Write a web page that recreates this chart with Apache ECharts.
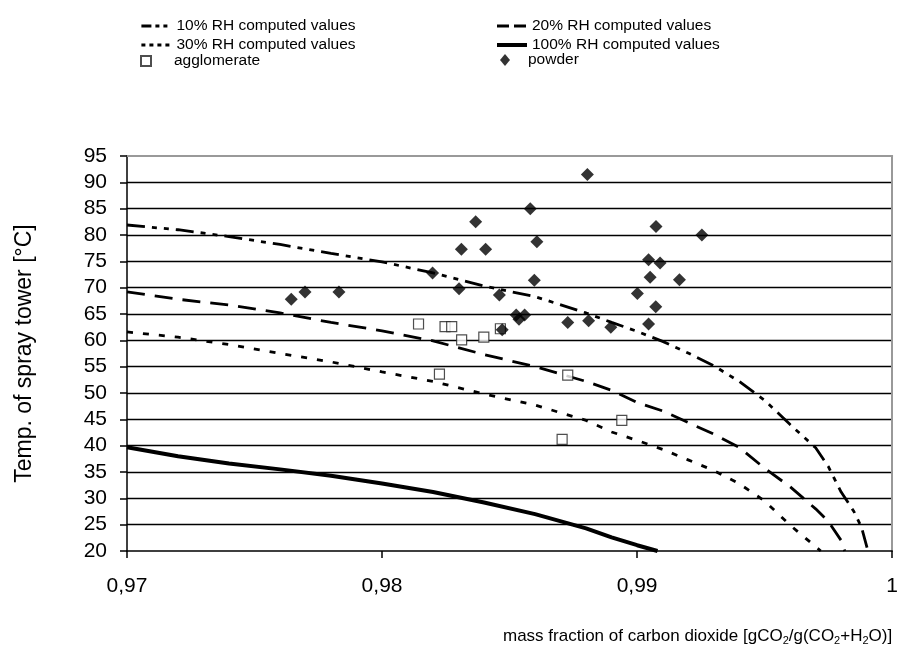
<!DOCTYPE html>
<html>
<head>
<meta charset="utf-8">
<script src="https://cdn.jsdelivr.net/npm/echarts@6/dist/echarts.min.js"></script>
<style>
  html, body { margin: 0; padding: 0; background: #fff; }
  #main { width: 901px; height: 652px; }
</style>
</head>
<body>
<div id="main"></div>
<script>
// computed curves (mass fraction CO2, temperature °C)
var rh10X = [0.970, 0.972, 0.974, 0.976, 0.978, 0.980, 0.982, 0.984, 0.986, 0.988, 0.989, 0.990, 0.991, 0.992, 0.993, 0.994, 0.995, 0.996, 0.997, 0.9975, 0.998, 0.9985, 0.9988, 0.99905];
var rh10Y = [81.9, 81.0, 79.7, 78.2, 76.5, 74.9, 72.8, 70.3, 68.3, 65.2, 63.4, 61.7, 59.8, 57.6, 55.2, 52.2, 48.6, 44.0, 39.6, 36.0, 31.2, 27.5, 24.5, 20.0];

var rh20X = [0.970, 0.972, 0.974, 0.976, 0.978, 0.980, 0.982, 0.984, 0.986, 0.988, 0.989, 0.990, 0.991, 0.992, 0.993, 0.994, 0.995, 0.996, 0.997, 0.9975, 0.998, 0.99814];
var rh20Y = [69.2, 67.8, 66.7, 65.2, 63.4, 61.8, 59.9, 57.3, 55.0, 52.2, 50.5, 48.2, 46.6, 44.4, 42.2, 39.7, 35.7, 32.2, 28.0, 25.6, 22.0, 20.0];

var rh30X = [0.970, 0.972, 0.974, 0.976, 0.978, 0.980, 0.982, 0.984, 0.986, 0.988, 0.989, 0.990, 0.991, 0.992, 0.993, 0.994, 0.995, 0.996, 0.9972];
var rh30Y = [61.6, 60.6, 59.2, 57.5, 55.9, 54.0, 52.2, 49.8, 47.7, 44.8, 42.6, 41.0, 39.3, 37.3, 35.3, 32.8, 29.5, 24.9, 20.0];

var rh100X = [0.970, 0.972, 0.974, 0.976, 0.978, 0.980, 0.982, 0.984, 0.986, 0.988, 0.989, 0.990, 0.9908];
var rh100Y = [39.7, 38.0, 36.6, 35.5, 34.3, 32.8, 31.2, 29.2, 27.0, 24.3, 22.6, 21.1, 20.0];

// measured points
var agglX = [0.98143, 0.98247, 0.98273, 0.98312, 0.98399, 0.98464, 0.98225, 0.98728, 0.98706, 0.98940];
var agglY = [63.1, 62.6, 62.6, 60.1, 60.6, 62.2, 53.6, 53.4, 41.2, 44.8];

var powderX = [0.97644, 0.97698, 0.97831, 0.98198, 0.98302, 0.98311, 0.98367, 0.98406, 0.98460, 0.98471,
               0.98526, 0.98537, 0.98559, 0.98581, 0.98607, 0.98597, 0.98805, 0.98728, 0.98810, 0.98897,
               0.99074, 0.99254, 0.99045, 0.99090, 0.99051, 0.99166, 0.99001, 0.99073, 0.99045];
var powderY = [67.8, 69.2, 69.2, 72.8, 69.8, 77.3, 82.5, 77.3, 68.6, 62.0,
               64.8, 64.0, 64.8, 85.0, 78.7, 71.4, 91.5, 63.4, 63.7, 62.5,
               81.6, 80.0, 75.3, 74.7, 72.0, 71.5, 68.9, 66.4, 63.1];

var names = ['10% RH computed values', '20% RH computed values', '30% RH computed values',
             '100% RH computed values', 'agglomerate', 'powder'];

function zip(xs, ys) {
    return xs.map(function (x, i) { return [x, ys[i]]; });
}

var font = 'Liberation Sans, Arial, sans-serif';

function lineSeries(name, xs, ys, type, width) {
    return {
        name: name,
        type: 'line',
        data: zip(xs, ys),
        symbol: 'none',
        smooth: false,
        clip: true,
        z: 3,
        itemStyle: { color: '#000' },
        lineStyle: { color: '#000', width: width, type: type }
    };
}

function legendText(padLeft) {
    return { fontFamily: font, fontSize: 15.5, color: '#000', padding: [0, 0, 0, padLeft] };
}

var myChart = echarts.init(document.getElementById('main'));
var option = {
    backgroundColor: '#fff',
    animation: false,
    legend: [{
        left: 135, top: 13, orient: 'vertical', itemGap: 3, itemWidth: 30, itemHeight: 14,
        selectedMode: false, itemStyle: { opacity: 0 }, textStyle: legendText(0),
        data: [
            { name: names[0], lineStyle: { type: [10, 4, 4, 4, 4, 4], width: 2.8 } },
            { name: names[2], lineStyle: { type: [4, 4], width: 2.8 } }
        ]
    }, {
        left: 490, top: 13, orient: 'vertical', itemGap: 3, itemWidth: 30, itemHeight: 14,
        selectedMode: false, itemStyle: { opacity: 0 }, textStyle: legendText(0),
        data: [
            { name: names[1], lineStyle: { type: [12, 5], width: 2.8 } },
            { name: names[3], lineStyle: { type: 'solid', width: 4 } }
        ]
    }, {
        left: 135, top: 48, orient: 'vertical', itemWidth: 10, itemHeight: 10,
        selectedMode: false, textStyle: legendText(18),
        data: [names[4]]
    }, {
        left: 495, top: 47, orient: 'vertical', itemWidth: 10, itemHeight: 12,
        selectedMode: false, textStyle: legendText(13),
        data: [names[5]]
    }],
    grid: { left: 127, right: 5, top: 156, bottom: 101 },
    xAxis: [{
        type: 'value',
        min: 0.97,
        max: 1,
        interval: 0.01,
        name: 'mass fraction of carbon dioxide [gCO{s|2}/g(CO{s|2}+H{s|2}O)]',
        nameLocation: 'end',
        nameGap: 0,
        nameTextStyle: {
            fontFamily: font, fontSize: 17, color: '#000',
            align: 'right', verticalAlign: 'top', padding: [76, 0, 0, 0],
            rich: { s: { fontFamily: font, fontSize: 11, color: '#000', verticalAlign: 'bottom', padding: [8, 0, 0, 0] } }
        },
        axisLine: { lineStyle: { color: '#000', width: 1.5 } },
        axisTick: { show: true, inside: false, length: 7, lineStyle: { color: '#000', width: 1.5 } },
        axisLabel: {
            fontFamily: font, fontSize: 21, color: '#000', margin: 25,
            formatter: function (v) { return String(+v.toFixed(2)).replace('.', ','); }
        },
        splitLine: { show: false }
    }, {
        type: 'value', position: 'top', min: 0.97, max: 1,
        axisLine: { show: true, onZero: false, lineStyle: { color: '#999', width: 2 } },
        axisTick: { show: false }, axisLabel: { show: false }, splitLine: { show: false }
    }],
    yAxis: [{
        type: 'value',
        min: 20,
        max: 95,
        interval: 5,
        name: 'Temp. of spray tower [°C]',
        nameLocation: 'middle',
        nameGap: 91,
        nameTextStyle: { fontFamily: font, fontSize: 23, color: '#000' },
        axisLine: { show: true, lineStyle: { color: '#000', width: 1.5 } },
        axisTick: { show: true, inside: false, length: 7, lineStyle: { color: '#000', width: 1.5 } },
        axisLabel: { fontFamily: font, fontSize: 21, color: '#000', margin: 20 },
        splitLine: { show: true, showMinLine: false, showMaxLine: false, lineStyle: { color: '#000', width: 1.3 } }
    }, {
        type: 'value', position: 'right', min: 20, max: 95,
        axisLine: { show: true, onZero: false, lineStyle: { color: '#999', width: 2 } },
        axisTick: { show: false }, axisLabel: { show: false }, splitLine: { show: false }
    }],
    series: [
        lineSeries(names[0], rh10X, rh10Y, [18, 7, 5, 7, 5, 7], 2.8),
        lineSeries(names[1], rh20X, rh20Y, [18, 10], 2.8),
        lineSeries(names[2], rh30X, rh30Y, [6, 10], 2.8),
        lineSeries(names[3], rh100X, rh100Y, 'solid', 4),
        {
            name: names[4],
            type: 'scatter',
            data: zip(agglX, agglY),
            symbol: 'rect',
            symbolSize: 10,
            z: 4,
            itemStyle: { color: '#fff', borderColor: '#222', borderWidth: 1.2 }
        },
        {
            name: names[5],
            type: 'scatter',
            data: zip(powderX, powderY),
            symbol: 'diamond',
            symbolSize: 13,
            z: 5,
            itemStyle: { color: '#000' }
        }
    ]
};
myChart.setOption(option);
</script>
</body>
</html>
